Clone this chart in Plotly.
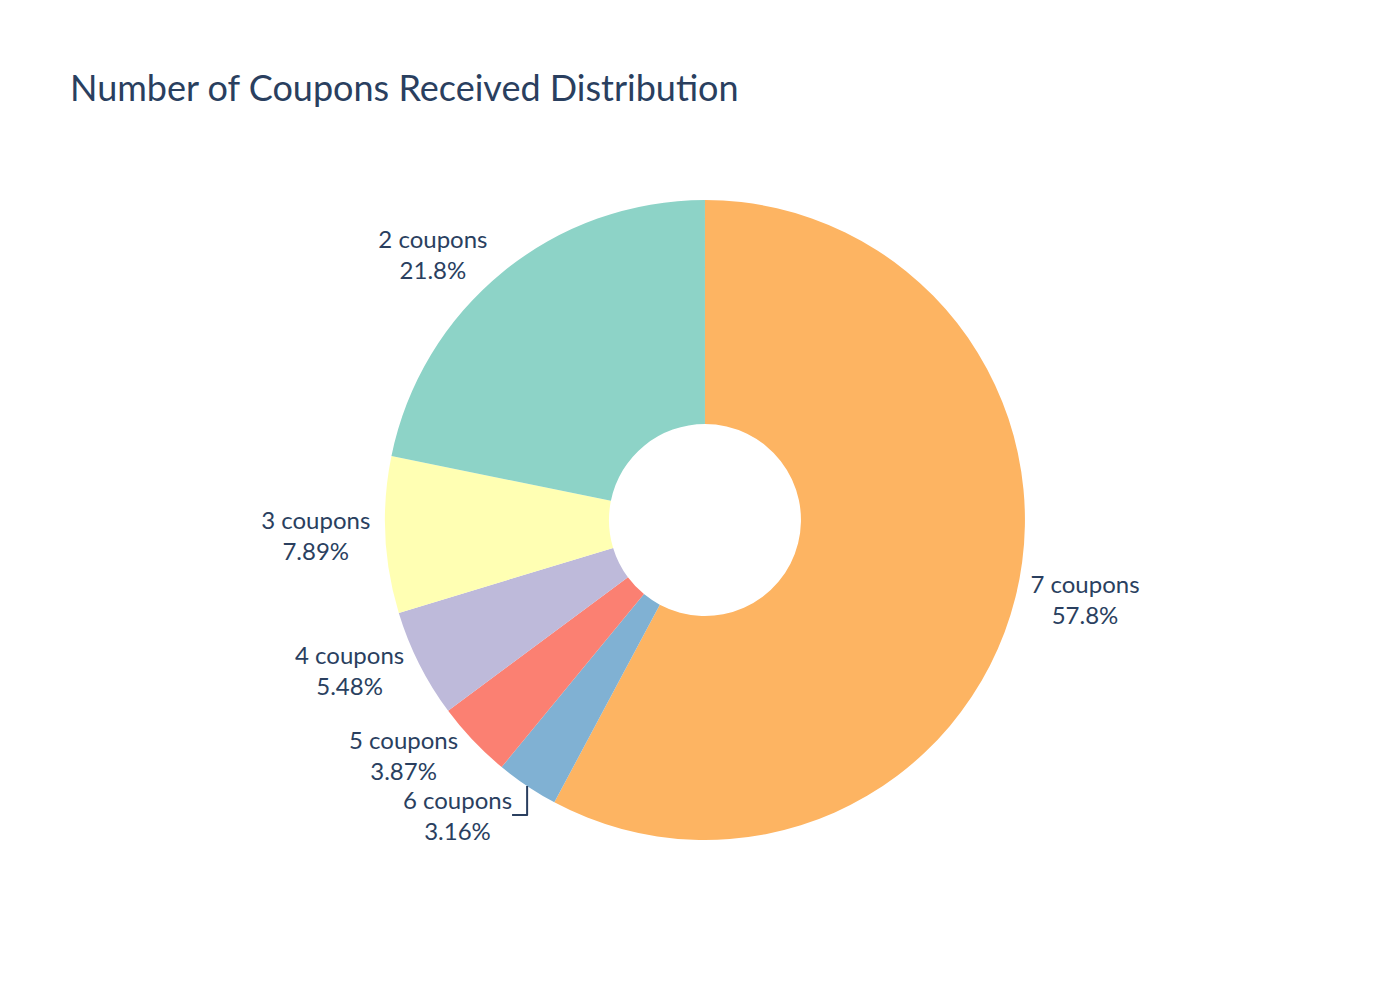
import plotly.graph_objects as go

labels = ["7 coupons", "6 coupons", "5 coupons", "4 coupons", "3 coupons", "2 coupons"]
values = [57.8, 3.16, 3.87, 5.48, 7.89, 21.8]
colors = ["#FDB462", "#80B1D3", "#FB8072", "#BEBADA", "#FFFFB3", "#8DD3C7"]

fig = go.Figure(go.Pie(
    labels=labels,
    values=values,
    hole=0.3,
    sort=False,
    direction="clockwise",
    rotation=0,
    marker=dict(colors=colors),
    textinfo="label+percent",
    textposition="outside",
    textfont=dict(size=24, color="#2a3f5f"),
    showlegend=False,
    domain=dict(x=[0.275, 0.7321], y=[0.16, 0.80]),
))

fig.update_layout(
    title=dict(text="Number of Coupons Received Distribution", x=0.05, xanchor="left",
               y=0.912, yref="container", yanchor="middle",
               font=dict(size=36, color="#2a3f5f")),
    font=dict(family="Lato, Noto Sans, sans-serif", color="#2a3f5f"),
    width=1400, height=1000,
    paper_bgcolor="white",
    margin=dict(l=0, r=0, t=0, b=0),
)

fig.write_html("out.html")
